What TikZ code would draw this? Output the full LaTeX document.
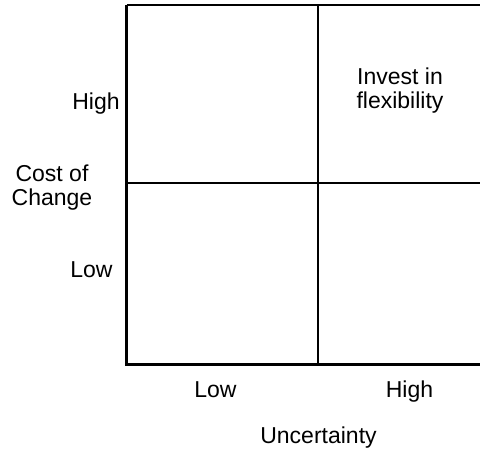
\documentclass[tikz,border=0pt]{standalone}
\usepackage{fontspec}
\setmainfont{Liberation Sans}
\begin{document}
\begin{tikzpicture}[x=0.5pt,y=-0.5pt,
  lbl/.style={font=\fontsize{11.5}{12}\selectfont, inner sep=0pt, align=center},
  axis/.style={line width=1.5pt},
  grid/.style={line width=1pt}]
\useasboundingbox (0,0) rectangle (480,452);
\coordinate (tl) at (126.5,5);
\coordinate (tr) at (480,5);
\coordinate (bl) at (126.5,364);
\coordinate (br) at (480,364);
\coordinate (vt) at (318,5);
\coordinate (vb) at (318,364);
\coordinate (hl) at (126.5,183);
\coordinate (hr) at (480,183);
\draw[grid] (tl) -- (tr);
\draw[grid] (vt) -- (vb);
\draw[grid] (hl) -- (hr);
\draw[axis] (tl) -- (bl) -- (br);
\node[lbl, anchor=base east] (yhigh) at (120,109) {High};
\node[lbl, anchor=base east] (ylow) at (113,277) {Low};
\node[lbl, anchor=base] (ylab) at (52,205) {Cost of\\Change};
\node[lbl, anchor=base] (inv) at (400,108) {Invest in\\flexibility};
\node[lbl, anchor=base] (xlow) at (215.5,397) {Low};
\node[lbl, anchor=base] (xhigh) at (409.5,397) {High};
\node[lbl, anchor=base] (xlab) at (318.5,443) {Uncertainty};
\end{tikzpicture}
\end{document}
